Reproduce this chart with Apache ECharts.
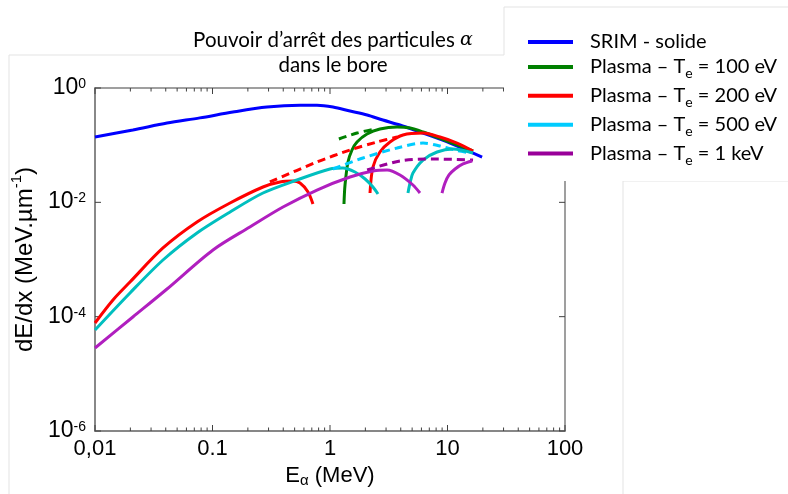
<!DOCTYPE html>
<html><head><meta charset="utf-8">
<script src="https://cdn.jsdelivr.net/npm/echarts@6/dist/echarts.min.js"></script>
<style>html,body{margin:0;padding:0;background:#fff}#c{width:788px;height:494px}</style>
</head><body><div id="c"></div>
<script>
// ---- data (E in MeV, dE/dx in MeV/µm) ----
const srim = [[0.01,0.139],[0.021,0.184],[0.041,0.244],[0.078,0.30],[0.149,0.38],[0.291,0.465],[0.556,0.50],[0.775,0.50],[1.06,0.465],[1.48,0.396],[2.07,0.337],[2.82,0.275],[3.94,0.225],[5.50,0.177],[10.5,0.109],[19.7,0.062]];
const te100 = [[1.315,0.00935],[1.342,0.0201],[1.423,0.0508],[1.539,0.0823],[1.698,0.1136],[2.065,0.157],[2.66,0.192],[3.72,0.208],[4.80,0.200],[6.19,0.170],[9.91,0.118],[16.5,0.079]];
const te100Dash = [[1.19,0.128],[1.698,0.163],[2.42,0.192]];
const te200Low = [[0.01,7.75e-5],[0.01422,1.96e-4],[0.01986,4.04e-4],[0.0379,1.59e-3],[0.0738,4.53e-3],[0.141,9.73e-3],[0.269,0.01854],[0.375,0.0227],[0.484,0.0236],[0.556,0.0218],[0.650,0.0152],[0.716,0.00935]];
const te200Dash = [[0.308,0.0227],[0.775,0.0508],[1.48,0.0823],[2.51,0.1136],[3.72,0.139]];
const te200High = [[2.19,0.01456],[2.32,0.0415],[2.66,0.076],[3.24,0.1136],[4.18,0.151],[6.19,0.163],[8.63,0.139],[12.05,0.109],[16.5,0.079]];
const te500Low = [[0.01,5.85e-5],[0.01986,2.60e-4],[0.0379,9.8e-4],[0.0738,2.91e-3],[0.141,6.78e-3],[0.269,0.01456],[0.524,0.0246],[1.0,0.0383],[1.29,0.0399],[1.63,0.0339],[1.99,0.0256],[2.32,0.0185],[2.56,0.0140]];
const te500Dash = [[1.06,0.0383],[1.91,0.0597],[3.72,0.0892],[6.19,0.109],[8.63,0.0967],[11.6,0.0823],[15.5,0.0729]];
const te500High = [[4.61,0.01456],[4.80,0.0218],[5.08,0.0326],[6.19,0.0550],[8.15,0.076],[11.1,0.0857],[16.5,0.0729]];
const te1kLow = [[0.01,2.83e-5],[0.021,9.87e-5],[0.041,3.05e-4],[0.101,1.47e-3],[0.208,3.71e-3],[0.398,8.28e-3],[0.775,0.01643],[1.48,0.0277],[2.32,0.0353],[3.06,0.0368],[3.94,0.0301],[5.08,0.0201],[5.83,0.01456]];
const te1kDash = [[2.07,0.0368],[3.94,0.0529],[7.53,0.0573],[16.5,0.055]];
const te1kHigh = [[8.98,0.01456],[9.52,0.0218],[10.3,0.0301],[11.6,0.0383],[13.55,0.0469],[16.2,0.0529]];

const seriesNames = ['SRIM - solide','Plasma – Te = 100 eV','Plasma – Te = 200 eV','Plasma – Te = 500 eV','Plasma – Te = 1 keV'];
const legendRich = ['{sp|}{a|SRIM - solide}','{sp|}{a|Plasma – T}{sub|e}{a| = 100 eV}','{sp|}{a|Plasma – T}{sub|e}{a| = 200 eV}','{sp|}{a|Plasma – T}{sub|e}{a| = 500 eV}','{sp|}{a|Plasma – T}{sub|e}{a| = 1 keV}'];
const xTickValues = [0.01,0.1,1,10,100];
const xTickLabels = ['0,01','0.1','1','10','100'];
const yTickValues = [1e-6,1e-4,1e-2,1];

const legendColors = ['#0000ff','#008000','#ff0000','#00ccff','#990099'];

// tick marks (MATLAB style, inward)
const tickData = [];
xTickValues.forEach(v => tickData.push([v, 1e-6, 0]));
for (let k = -2; k < 2; k++) for (let m = 2; m <= 9; m++) tickData.push([m * Math.pow(10, k), 1e-6, 1]);
yTickValues.forEach(v => tickData.push([0.01, v, 2]));

function line(name, data, color, dashed) {
  return { name, type: 'line', data, showSymbol: false, smooth: 0.3,
    lineStyle: { color, width: 3, type: dashed ? [8, 5] : 'solid' }, itemStyle: { color }, z: 3, silent: true };
}

const chart = echarts.init(document.getElementById('c'));
const FONT = 'Liberation Sans, Arial, sans-serif';
const LFONT = 'Lato, Noto Sans, sans-serif';
chart.setOption({
  animation: false,
  backgroundColor: '#fff',
  title: {
    text: 'Pouvoir d’arrêt des particules {i|α}\ndans le bore',
    left: 328, top: 23, textAlign: 'center',
    textStyle: { fontFamily: LFONT, fontSize: 20.5, fontWeight: 'normal', color: '#000', lineHeight: 25,
      rich: { i: { fontFamily: 'DejaVu Serif', fontStyle: 'italic', fontSize: 19, color: '#000' } } }
  },
  legend: {
    orient: 'vertical', left: 523, top: 27, itemWidth: 45, itemHeight: 4, itemGap: 5, icon: 'rect', z: 10,
    data: seriesNames.map((n, i) => ({ name: n, itemStyle: { color: legendColors[i] } })),
    formatter: n => legendRich[seriesNames.indexOf(n)],
    textStyle: { color: '#000', rich: {
      sp: { width: 12 },
      a: { fontFamily: LFONT, fontSize: 20, color: '#000', lineHeight: 27.7 },
      sub: { fontFamily: LFONT, fontSize: 14, color: '#000', verticalAlign: 'bottom', lineHeight: 22 }
    } }
  },
  grid: { left: 95, top: 88, width: 470, height: 343, show: true, borderColor: '#808080', borderWidth: 1.5, backgroundColor: 'transparent' },
  xAxis: {
    type: 'log', logBase: 10, min: 0.01, max: 100,
    axisLine: { show: true, lineStyle: { color: '#808080', width: 1.5 } },
    axisTick: { show: false }, minorTick: { show: false }, splitLine: { show: false },
    axisLabel: { margin: 7, color: '#000', fontFamily: FONT, fontSize: 22,
      formatter: v => { const i = xTickValues.findIndex(t => Math.abs(Math.log10(t) - Math.log10(v)) < 1e-6); return i >= 0 ? xTickLabels[i] : ''; } },
    name: '{a|E}{sub|α}{a| (MeV)}', nameLocation: 'middle', nameGap: 32,
    nameTextStyle: { rich: { a: { fontFamily: FONT, fontSize: 22, color: '#000' }, sub: { fontFamily: FONT, fontSize: 15, color: '#000', verticalAlign: 'bottom', padding: [10, 0, 0, 0] } } }
  },
  yAxis: {
    type: 'log', logBase: 10, min: 1e-6, max: 1, splitNumber: 3,
    axisLine: { show: true, lineStyle: { color: '#808080', width: 1.5 } },
    axisTick: { show: false }, minorTick: { show: false }, splitLine: { show: false },
    axisLabel: { margin: 9, showMinLabel: true, showMaxLabel: true,
      formatter: v => { const e = Math.round(Math.log10(v)); return (e % 2 === 0) ? '{b|10}{s|' + (e === 0 ? '0' : '-' + (-e)) + '}' : ''; },
      rich: { b: { fontFamily: FONT, fontSize: 23, color: '#000', lineHeight: 22, verticalAlign: 'bottom' },
              s: { fontFamily: FONT, fontSize: 14, color: '#000', lineHeight: 14, verticalAlign: 'top', padding: [0, 0, 12, 0] } } },
    name: '{a|dE/dx (MeV.µm}{s|-1}{a|)}', nameLocation: 'middle', nameGap: 50, nameRotate: 90,
    nameTextStyle: { rich: { a: { fontFamily: FONT, fontSize: 24, color: '#000', lineHeight: 28, verticalAlign: 'bottom' }, s: { fontFamily: FONT, fontSize: 15, color: '#000', verticalAlign: 'top', lineHeight: 15 } } }
  },
  graphic: [
    { type: 'line', shape: { x1: 9, y1: 55, x2: 504, y2: 55 }, style: { stroke: '#e3e3e3', lineWidth: 1 }, z: 1, silent: true },
    { type: 'line', shape: { x1: 9, y1: 55, x2: 9, y2: 494 }, style: { stroke: '#e3e3e3', lineWidth: 1 }, z: 1, silent: true },
    { type: 'rect', shape: { x: 504, y: 7, width: 290, height: 174 }, style: { fill: '#fff' }, z: 5, silent: true },
    { type: 'line', shape: { x1: 504, y1: 7, x2: 504, y2: 55 }, style: { stroke: '#e3e3e3', lineWidth: 1 }, z: 6, silent: true },
    { type: 'line', shape: { x1: 504, y1: 7, x2: 788, y2: 7 }, style: { stroke: '#e3e3e3', lineWidth: 1 }, z: 6, silent: true },
    { type: 'line', shape: { x1: 623, y1: 181, x2: 623, y2: 494 }, style: { stroke: '#e3e3e3', lineWidth: 1 }, z: 1, silent: true },
    { type: 'line', shape: { x1: 623, y1: 181, x2: 788, y2: 181 }, style: { stroke: '#e3e3e3', lineWidth: 1 }, z: 1, silent: true }
  ],
  series: [
    { type: 'custom', name: 'ticks', data: tickData, encode: { x: 0, y: 1 }, silent: true, z: 1,
      renderItem: (params, api) => {
        const v = api.value(0), w = api.value(1), kind = api.value(2);
        const st = { stroke: '#404040', lineWidth: 1 };
        if (kind < 2) {
          const b = api.coord([v, 1e-6]), t = api.coord([v, 1]); const L = kind === 0 ? 6 : 3.5;
          return { type: 'group', children: [
            { type: 'line', shape: { x1: b[0], y1: b[1], x2: b[0], y2: b[1] - L }, style: st },
            { type: 'line', shape: { x1: t[0], y1: t[1], x2: t[0], y2: t[1] + L }, style: st } ] };
        }
        const l = api.coord([0.01, w]), r = api.coord([100, w]);
        return { type: 'group', children: [
          { type: 'line', shape: { x1: l[0], y1: l[1], x2: l[0] + 6, y2: l[1] }, style: st },
          { type: 'line', shape: { x1: r[0], y1: r[1], x2: r[0] - 6, y2: r[1] }, style: st } ] };
      } },
    line(seriesNames[0], srim, '#0000ff'),
    line(seriesNames[1], te100, '#008000'),
    line(seriesNames[1], te100Dash, '#008000', true),
    line(seriesNames[2], te200Low, '#ff0000'),
    line(seriesNames[2], te200Dash, '#ff0000', true),
    line(seriesNames[2], te200High, '#ff0000'),
    line(seriesNames[3], te500Low, '#00bfbf'),
    line(seriesNames[3], te500Dash, '#00ccff', true),
    line(seriesNames[3], te500High, '#00bfbf'),
    line(seriesNames[4], te1kLow, '#b01fbf'),
    line(seriesNames[4], te1kDash, '#990099', true),
    line(seriesNames[4], te1kHigh, '#b01fbf')
  ]
});
</script></body></html>
